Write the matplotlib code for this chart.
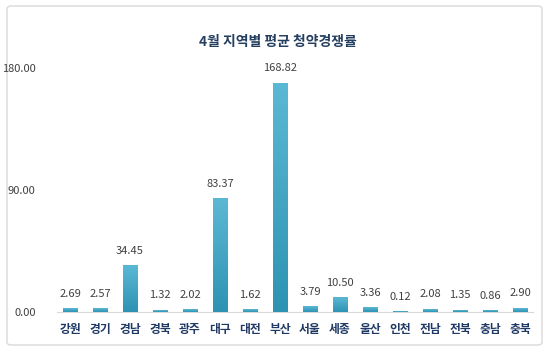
import matplotlib
matplotlib.use("Agg")
import matplotlib.pyplot as plt
from matplotlib.patches import FancyBboxPatch
from matplotlib.colors import LinearSegmentedColormap
import numpy as np

plt.rcParams['font.family'] = ['Noto Sans CJK KR', 'DejaVu Sans']

title = "4월 지역별 평균 청약경쟁률"
regions = ["강원", "경기", "경남", "경북", "광주", "대구", "대전", "부산",
           "서울", "세종", "울산", "인천", "전남", "전북", "충남", "충북"]
values = [2.69, 2.57, 34.45, 1.32, 2.02, 83.37, 1.62, 168.82,
          3.79, 10.50, 3.36, 0.12, 2.08, 1.35, 0.86, 2.90]
yticks = [0, 90, 180]

W, H = 550, 352
fig = plt.figure(figsize=(W / 100, H / 100), dpi=100)
fig.patch.set_facecolor("white")

border = FancyBboxPatch((7 / W, 7 / H), (542 - 7) / W, (346 - 7) / H,
                        boxstyle="round,pad=0,rounding_size=0.008",
                        transform=fig.transFigure, facecolor="none",
                        edgecolor="#D9D9D9", linewidth=1.0, zorder=-5)
fig.patches.append(border)

ax = fig.add_axes([55 / W, 1 - 312 / H, 480 / W, (312 - 68) / H])
ax.set_facecolor("none")
x = np.arange(len(regions))
bars = ax.bar(x, values, width=0.47, color="#3FA7C7", zorder=3)

cmap = LinearSegmentedColormap.from_list("g", ["#2E93B3", "#5BB8D4"])
grad = np.linspace(0, 1, 64).reshape(-1, 1)
for b in bars:
    bx, by = b.get_x(), b.get_y()
    bw, bh = b.get_width(), b.get_height()
    if bh <= 0:
        continue
    ax.imshow(grad, extent=[bx, bx + bw, by, by + bh], origin="lower",
              cmap=cmap, aspect="auto", zorder=3)
    b.set_alpha(0)

ax.set_xlim(-0.5, len(regions) - 0.5)
ax.set_ylim(0, 180)
ax.set_aspect("auto")
ax.set_yticks(yticks)
ax.set_yticklabels([f"{v:.2f}" for v in yticks], color="#404040", fontsize=8)
ax.set_xticks(x)
ax.set_xticklabels(regions, color="#1F3864", fontsize=8.5, fontweight="bold")
ax.tick_params(axis="both", length=0)
ax.tick_params(axis="x", pad=8)
ax.tick_params(axis="y", pad=14)
for s in ["top", "right", "left"]:
    ax.spines[s].set_visible(False)
ax.spines["bottom"].set_color("#D9D9D9")
ax.spines["bottom"].set_bounds(-0.42, len(regions) - 0.58)

for xi, v in zip(x, values):
    ax.annotate(f"{v:.2f}", (xi, v), xytext=(0, 7), textcoords="offset points",
                ha="center", va="bottom", fontsize=8, color="#404040")

fig.text(278 / W, 1 - 42 / H, title, ha="center", va="center",
         fontsize=10, fontweight="bold", color="#243F60")

fig.savefig("out.png", dpi=100, facecolor="white")
